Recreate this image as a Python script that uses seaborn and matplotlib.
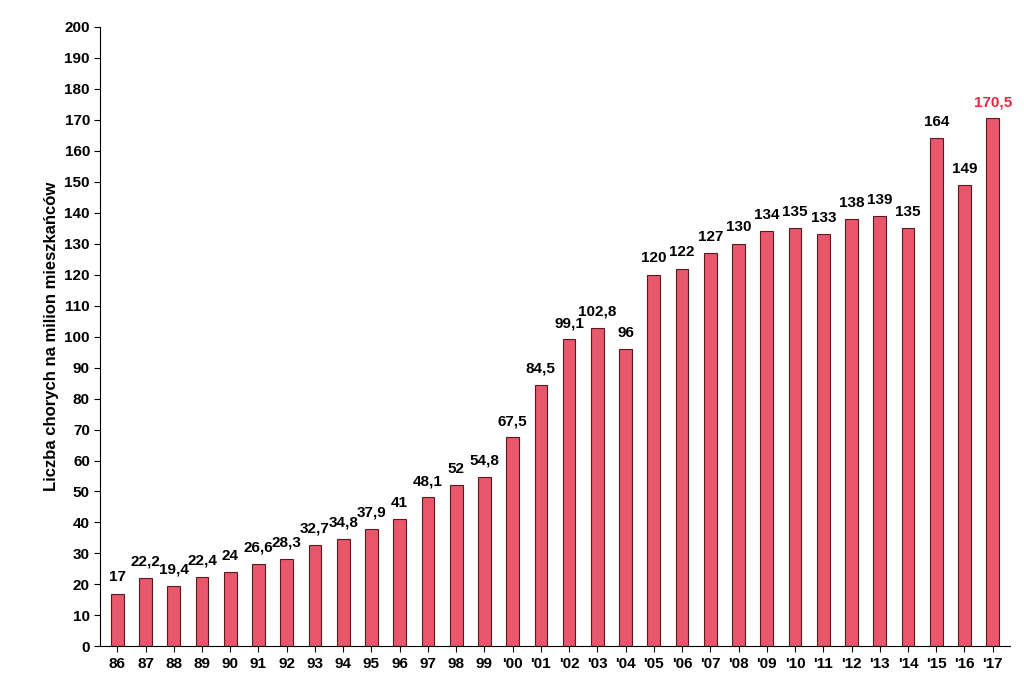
import matplotlib
matplotlib.use("Agg")
import matplotlib.pyplot as plt
import seaborn as sns
import pandas as pd

years = ["86","87","88","89","90","91","92","93","94","95","96","97","98","99","'00","'01","'02","'03","'04","'05","'06","'07","'08","'09","'10","'11","'12","'13","'14","'15","'16","'17"]
values = [17,22.2,19.4,22.4,24,26.6,28.3,32.7,34.8,37.9,41,48.1,52,54.8,67.5,84.5,99.1,102.8,96,120,122,127,130,134,135,133,138,139,135,164,149,170.5]

plt.rcParams["font.family"] = "Liberation Sans"
df = pd.DataFrame({"year": years, "value": values})
fig = plt.figure(figsize=(10.24, 6.92), dpi=100)
ax = fig.add_axes([0.098, 0.066, 0.888, 0.895])
sns.barplot(data=df, x="year", y="value", color="#e8576b", width=0.45,
            edgecolor="#5a1a22", linewidth=0.8, saturation=1, ax=ax)
ax.set_ylim(0, 200)
ax.set_xlim(-0.6, len(years) - 0.4)
ax.set_yticks(range(0, 201, 10))
ax.tick_params(axis="both", labelsize=11, length=4)
for lab in ax.get_xticklabels() + ax.get_yticklabels():
    lab.set_fontweight("bold")
ax.set_xlabel("")
ax.set_ylabel("Liczba chorych na milion mieszkańców", fontsize=12, fontweight="bold")
for s in ["top", "right"]:
    ax.spines[s].set_visible(False)
for i, v in enumerate(values):
    txt = f"{v:g}".replace(".", ",")
    color = "#e8283c" if i == len(values) - 1 else "black"
    ax.text(i, v + 3, txt, ha="center", va="bottom", fontsize=11,
            fontweight="bold", color=color)
fig.savefig("out.png", dpi=100)
